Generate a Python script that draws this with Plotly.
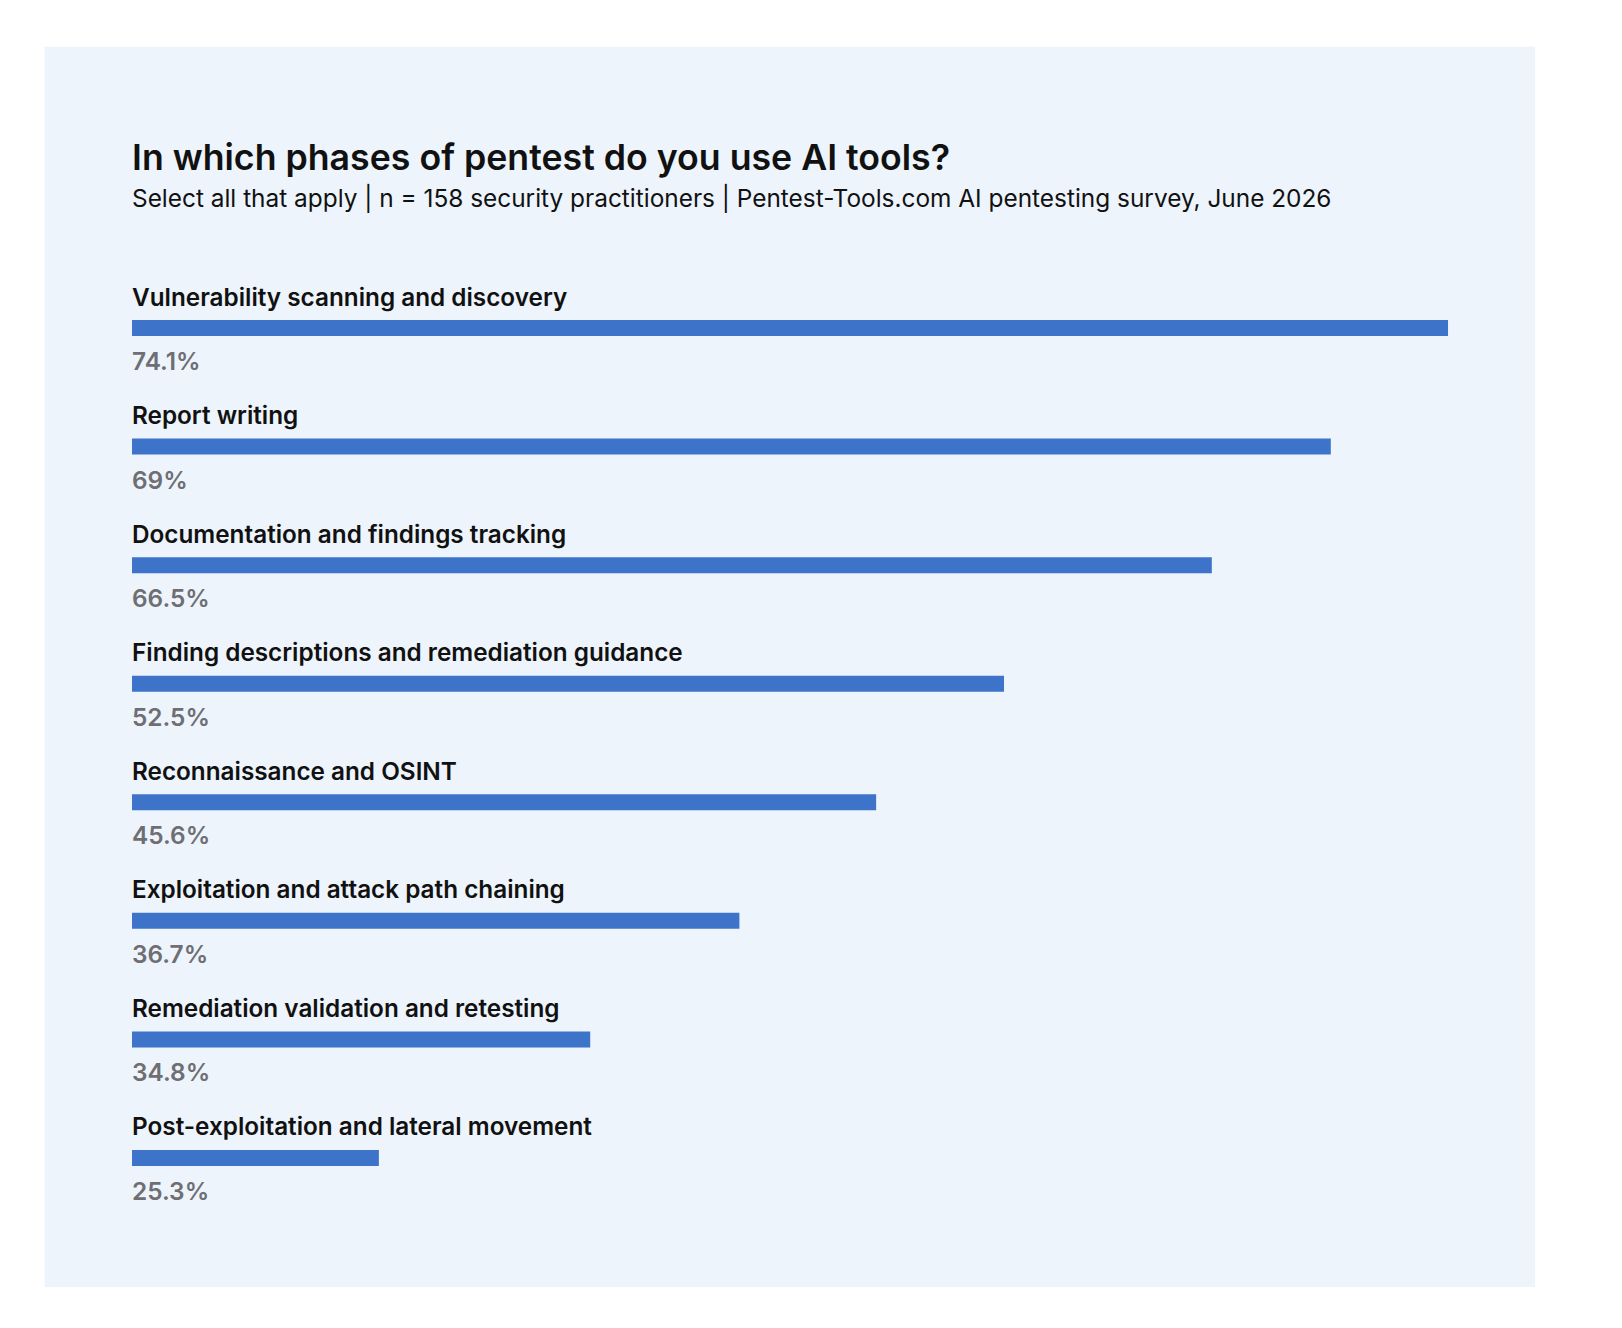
import plotly.graph_objects as go

# survey answers, top to bottom
phases = [
    "Vulnerability scanning and discovery",
    "Report writing",
    "Documentation and findings tracking",
    "Finding descriptions and remediation guidance",
    "Reconnaissance and OSINT",
    "Exploitation and attack path chaining",
    "Remediation validation and retesting",
    "Post-exploitation and lateral movement",
]
share_labels = ["74.1%", "69%", "66.5%", "52.5%", "45.6%", "36.7%", "34.8%", "25.3%"]
# drawn bar lengths (same units as the top bar)
bar_len = [74.1, 67.5, 60.8, 49.1, 41.9, 34.2, 25.8, 13.9]

TITLE = "In which phases of pentest do you use AI tools?"
SUBTITLE = ("Select all that apply | n = 158 security practitioners | "
            "Pentest-Tools.com AI pentesting survey, June 2026")

W, H = 1606, 1312          # page body has an 8px margin
ROW = 118.57               # px between rows
PX = 17.76                 # px per bar unit
X0, Y0 = 124, 320          # bar start / first bar centre (px)

FONT = "Inter, 'Open Sans', sans-serif"
BAR = "#3d73c9"
PANEL = "#edf4fc"
INK = "#111111"
GREY = "#6e6e73"

rows = list(range(len(phases)))

fig = go.Figure(go.Bar(
    x=bar_len, y=rows, orientation="h",
    width=16 / ROW, marker=dict(color=BAR, line_width=0),
    hoverinfo="skip",
))

ann = []
for i in rows:
    ann.append(dict(x=0, y=i - 31.5 / ROW, xref="x", yref="y", text=phases[i],
                    xanchor="left", yanchor="middle", showarrow=False, xshift=-2,
                    font=dict(family=FONT, size=24.3, color=INK, weight=600)))
    ann.append(dict(x=0, y=i + 33 / ROW, xref="x", yref="y", text=share_labels[i],
                    xanchor="left", yanchor="middle", showarrow=False, xshift=-2,
                    font=dict(family=FONT, size=24.4, color=GREY, weight=600)))

ann.append(dict(x=(X0 - 2) / W, y=1 - 149 / H, xref="paper", yref="paper", text=TITLE,
                xanchor="left", yanchor="middle", showarrow=False,
                font=dict(family=FONT, size=35.7, color=INK, weight=600)))
ann.append(dict(x=(X0 - 2) / W, y=1 - 190 / H, xref="paper", yref="paper", text=SUBTITLE,
                xanchor="left", yanchor="middle", showarrow=False,
                font=dict(family=FONT, size=24.4, color=INK, weight=400)))

span = H / ROW
r_top = -Y0 / ROW
fig.update_layout(
    width=W, height=H,
    margin=dict(l=0, r=0, t=0, b=0),
    paper_bgcolor="white", plot_bgcolor="rgba(0,0,0,0)",
    showlegend=False,
    xaxis=dict(range=[-X0 / PX, (W - X0) / PX], visible=False, fixedrange=True),
    yaxis=dict(range=[r_top + span, r_top], visible=False, fixedrange=True),
    shapes=[dict(type="rect", xref="paper", yref="paper", layer="below",
                 x0=36.6 / W, x1=1527 / W, y0=1 - 1279 / H, y1=1 - 38.7 / H,
                 fillcolor=PANEL, line_width=0)],
    annotations=ann,
)

fig.write_html("out.html", config={"displayModeBar": False})
